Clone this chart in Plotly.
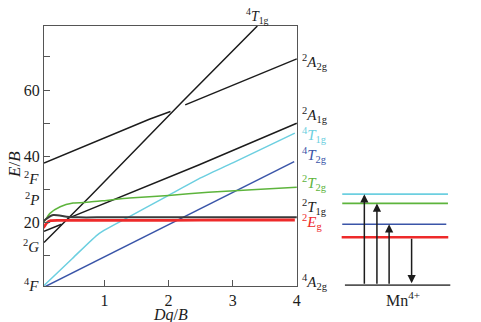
import plotly.graph_objects as go

# ---------------- data ----------------
# Tanabe-Sugano curves (x = Dq/B, y = E/B)
dq_4T2g = [0.0, 2.0, 3.96]
e_4T2g = [0.0, 19.4, 38.4]

dq_4T1g_F = [0.0, 0.5, 0.92, 1.34, 1.95, 2.47, 3.01, 3.97]
e_4T1g_F = [0.0, 9.2, 16.8, 21.3, 27.7, 33.2, 38.1, 47.0]

dq_2T2g = [0.0, 0.04, 0.15, 0.31, 0.51, 0.77, 1.03, 1.39, 2.0, 2.62, 3.3, 4.0]
e_2T2g = [19.2, 19.8, 22.8, 24.8, 25.9, 26.2, 26.7, 27.4, 28.2, 29.2, 29.9, 30.7]

dq_2Eg = [0.0, 0.06, 0.1, 0.16, 0.3, 1.0, 2.0, 3.0, 3.97]
e_2Eg = [17.5, 18.8, 19.9, 20.6, 20.7, 20.7, 20.7, 20.8, 20.8]

dq_2T1g = [0.03, 0.07, 0.2, 0.41, 0.6, 1.0, 2.0, 3.0, 4.0]
e_2T1g = [20.0, 20.8, 22.3, 21.8, 21.6, 21.6, 21.6, 21.6, 21.6]

dq_2A1g = [0.057, 0.33, None, 0.43, 1.39, 2.47, 4.0]
e_2A1g = [17.4, 19.5, None, 21.3, 28.9, 37.4, 50.0]

dq_4T1g_P = [0.057, 0.77, 2.21, 3.385]
e_4T1g_P = [14.0, 27.8, 56.4, 79.3]

dq_2A2g = [0.057, 1.70, 2.03, None, 2.26, 4.0]
e_2A2g = [38.0, 51.2, 53.5, None, 55.5, 69.4]

# axis ticks
x_ticks = [1, 2, 3, 4]
y_ticks = [10, 20, 30, 40, 50, 60, 70]
y_ticktext = ["", "20", "", "40", "", "60", ""]

# Mn4+ level scheme (schematic energies)
level_names = ["4A2g", "2Eg", "4T2g", "2T2g", "4T1g"]
level_energy = [0.0, 14.5, 18.4, 24.7, 27.5]
# transitions: (from level, to level)
transitions = [("4A2g", "4T1g"), ("4A2g", "2T2g"), ("4A2g", "4T2g"), ("2Eg", "4A2g")]

# ---------------- styles ----------------
CYAN = "#6ccfe0"
GREEN = "#5db43c"
BLUE = "#3a55a8"
RED = "#ee2a2a"
BLACK = "#1c1c1c"
GRAY = "#555555"
FONT = "Liberation Serif"

fig = go.Figure()


def curve(x, y, color, width=1.5, shape="linear"):
    fig.add_trace(go.Scatter(x=x, y=y, mode="lines",
                             line=dict(color=color, width=width, shape=shape, smoothing=0.6),
                             connectgaps=False, hoverinfo="skip", xaxis="x", yaxis="y"))


curve(dq_2A2g, e_2A2g, BLACK)
curve(dq_4T1g_P, e_4T1g_P, BLACK)
curve(dq_2A1g, e_2A1g, BLACK)
curve(dq_4T2g, e_4T2g, BLUE)
curve(dq_4T1g_F, e_4T1g_F, CYAN, shape="spline")
curve(dq_2T2g, e_2T2g, GREEN, shape="spline")
curve(dq_2T1g, e_2T1g, "#3a3a3a", width=2, shape="spline")
curve(dq_2Eg, e_2Eg, RED, width=2.8, shape="spline")

# level scheme lines
level_style = {
    "4A2g": dict(color=GRAY, width=2.2, x0=3.7, x1=110.3),
    "2Eg": dict(color=RED, width=2.6, x0=0.3, x1=108.0),
    "4T2g": dict(color=BLUE, width=1.6, x0=1.0, x1=106.0),
    "2T2g": dict(color=GREEN, width=1.6, x0=1.0, x1=107.7),
    "4T1g": dict(color=CYAN, width=1.8, x0=1.0, x1=107.7),
}
for name, e in zip(level_names, level_energy):
    st = level_style[name]
    fig.add_trace(go.Scatter(x=[st["x0"], st["x1"]], y=[e, e], mode="lines",
                             line=dict(color=st["color"], width=st["width"]),
                             hoverinfo="skip", xaxis="x2", yaxis="y2"))

energy = dict(zip(level_names, level_energy))
arrow_x = [23.3, 36.0, 48.3, 71.0]
annotations = []
for (a, b), xa in zip(transitions, arrow_x):
    y0 = energy[a]
    y1 = energy[b]
    if y1 < y0:
        y1 = y1 + 0.6
    annotations.append(dict(x=xa, y=y1, ax=xa, ay=y0, xref="x2", yref="y2",
                            axref="x2", ayref="y2", showarrow=True, text="",
                            arrowhead=2, arrowsize=1.1, arrowwidth=1.5,
                            arrowcolor=BLACK, standoff=0, startstandoff=0))


def lab(sup, main, sub=""):
    s = f"<sup>{sup}</sup><i>{main}</i>"
    if sub:
        s += f"<sub>{sub}</sub>"
    return s


# right-hand labels of the main diagram
right_labels = [
    (lab("2", "A", "2g"), 68.5, BLACK),
    (lab("2", "A", "1g"), 52.5, BLACK),
    (lab("4", "T", "1g"), 46.3, CYAN),
    (lab("4", "T", "2g"), 40.3, BLUE),
    (lab("2", "T", "2g"), 32.0, GREEN),
    (lab("2", "T", "1g"), 24.8, BLACK),
    (lab("2", "E", "g"), 20.2, RED),
    (lab("4", "A", "2g"), 2.2, BLACK),
]
for t, yv, c in right_labels:
    annotations.append(dict(x=1, xref="x domain", y=yv, yref="y", text=t,
                            showarrow=False, xanchor="left", yanchor="middle",
                            xshift=3, font=dict(family=FONT, size=15, color=c)))

# left-hand free-ion terms
left_labels = [(lab("2", "F"), 33.4), (lab("2", "P"), 27.0),
               (lab("2", "G"), 13.0), (lab("4", "F"), 1.2)]
for t, yv in left_labels:
    annotations.append(dict(x=0, xref="x domain", y=yv, yref="y", text=t,
                            showarrow=False, xanchor="right", yanchor="middle",
                            xshift=-3, font=dict(family=FONT, size=15, color=BLACK)))

# top label
annotations.append(dict(x=3.385, xref="x", y=1, yref="y domain", text=lab("4", "T", "1g"),
                        showarrow=False, xanchor="center", yanchor="bottom", yshift=-2,
                        font=dict(family=FONT, size=14, color=BLACK)))

# axis titles
annotations.append(dict(x=0.5, xref="x domain", y=0, yref="y domain", text="<i>Dq</i>/<i>B</i>",
                        showarrow=False, xanchor="center", yanchor="middle", yshift=-29,
                        font=dict(family=FONT, size=16, color=BLACK)))
annotations.append(dict(x=0, xref="x domain", y=37.4, yref="y", text="<i>E</i>/<i>B</i>",
                        showarrow=False, xanchor="center", yanchor="middle", xshift=-29,
                        textangle=-90, font=dict(family=FONT, size=17, color=BLACK)))

# level scheme labels
scheme_labels = [
    (lab("4", "T", "1g"), 27.5, CYAN),
    (lab("2", "T", "2g"), 24.4, GREEN),
    (lab("4", "T", "2g"), 18.5, BLUE),
    (lab("2", "E", "g"), 11.6, RED),
    (lab("4", "A", "2g"), 0.6, BLACK),
]
for t, yv, c in scheme_labels:
    annotations.append(dict(x=111, xref="x2", y=yv, yref="y2", text=t,
                            showarrow=False, xanchor="left", yanchor="middle",
                            font=dict(family=FONT, size=15, color=c)))
annotations.append(dict(x=62.0, xref="x2", y=0, yref="y2 domain", text="Mn<sup>4+</sup>",
                        showarrow=False, xanchor="center", yanchor="middle", yshift=-13,
                        font=dict(family=FONT, size=16, color=BLACK)))

axis_common = dict(showgrid=False, zeroline=False, ticks="inside", ticklen=6,
                   tickcolor=GRAY, linecolor=GRAY, linewidth=1.3, mirror=True,
                   showline=True, tickfont=dict(family=FONT, size=16, color=BLACK))

# the page body adds an 8 px offset; the figure size/margins compensate for it
fig.update_layout(
    width=473, height=314,
    margin=dict(l=36, r=0, t=18, b=36),
    paper_bgcolor="white", plot_bgcolor="white",
    showlegend=False,
    xaxis=dict(domain=[0, 0.5842], range=[0.057, 4.003], tickvals=x_ticks,
               **axis_common),
    yaxis=dict(domain=[0, 1], range=[0.9, 79.3], tickvals=y_ticks,
               ticktext=y_ticktext, **axis_common),
    xaxis2=dict(domain=[0.6865, 0.9389], range=[0, 110.3], visible=False,
                anchor="y2"),
    yaxis2=dict(domain=[0, 1], range=[-0.2, 78.2], visible=False, anchor="x2"),
    annotations=annotations,
)

fig.write_html("out.html")
